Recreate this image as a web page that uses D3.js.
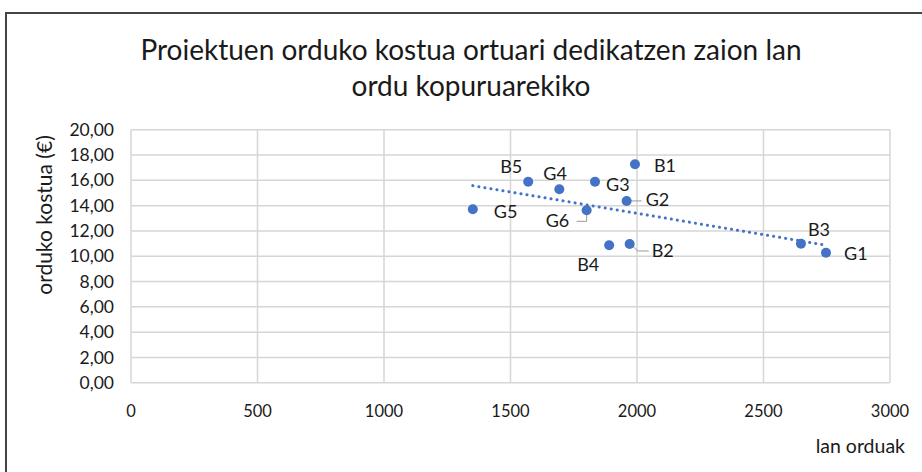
<!DOCTYPE html>
<html><head><meta charset="utf-8">
<script src="https://cdn.jsdelivr.net/npm/d3@7"></script>
<style>body{margin:0;background:#fff}svg{display:block}text{font-family:Lato,"Open Sans",sans-serif}</style>
</head><body><svg id="c" width="922" height="472"></svg>
<script>
const names = ["B1","B5","G4","G3","G2","G5","G6","B4","B2","B3","G1"];
const hours = [1992,1570,1693,1834,1959,1351,1801,1890,1971,2648,2747];
const costs = [17.27,15.89,15.29,15.89,14.37,13.71,13.63,10.87,10.97,10.99,10.28];
const xTicks = [0,500,1000,1500,2000,2500,3000];
const yTicks = [0,2,4,6,8,10,12,14,16,18,20];
const titleLines = ["Proiektuen orduko kostua ortuari dedikatzen zaion lan","ordu kopuruarekiko"];
// label offsets (dx, dy)
const labelOff = {B1:[19,1],B5:[-28,-15],G4:[-16,-16],G3:[11,3],G2:[19,-1],
  G5:[21,2],G6:[-41,10],B4:[-32,19],B2:[22,7],B3:[7,-14],G1:[18,1]};

const svg = d3.select("#c");
svg.append("rect").attr("x",6).attr("y",13).attr("width",930).attr("height",480)
  .attr("fill","#fff").attr("stroke","#444").attr("stroke-width",2);

const L=131,R=890,T=129.7,B=382.8;
const x = d3.scaleLinear().domain([0,3000]).range([L,R]);
const y = d3.scaleLinear().domain([0,20]).range([B,T]);
const ink = "#1a1a1a";

const g = svg.append("g");
g.selectAll(".hg").data(yTicks).join("line").attr("x1",L).attr("x2",R)
  .attr("y1",d=>y(d)).attr("y2",d=>y(d)).attr("stroke","#d6d6d6").attr("stroke-width",1.5);
g.selectAll(".vg").data(xTicks).join("line").attr("y1",T).attr("y2",B)
  .attr("x1",d=>x(d)).attr("x2",d=>x(d)).attr("stroke","#d6d6d6").attr("stroke-width",1.5);

const fmt = d => d.toFixed(2).replace(".",",");
g.selectAll(".yl").data(yTicks).join("text").attr("x",L-17).attr("y",d=>y(d)).attr("dy","0.35em")
  .attr("text-anchor","end").attr("font-size",17.5).attr("fill",ink).text(fmt);
g.selectAll(".xl").data(xTicks).join("text").attr("x",d=>x(d)).attr("y",B+28).attr("dy","0.35em")
  .attr("text-anchor","middle").attr("font-size",16.5).attr("fill",ink).text(d=>d);

// trendline (least squares)
const mx=d3.mean(hours), my=d3.mean(costs);
const slope=d3.sum(hours.map((h,i)=>(h-mx)*(costs[i]-my)))/d3.sum(hours.map(h=>(h-mx)**2));
const icpt=my-slope*mx;
const x0=d3.min(hours), x1=d3.max(hours);
g.append("line").attr("x1",x(x0)).attr("y1",y(icpt+slope*x0)).attr("x2",x(x1)).attr("y2",y(icpt+slope*x1))
  .attr("stroke","#4472C4").attr("stroke-width",3).attr("stroke-dasharray","0.1 6").attr("stroke-linecap","round");

const pts = names.map((nm,i)=>({nm,h:hours[i],c:costs[i]}));
const lead = {G2:[[4,0],[15,0]], G6:[[0,3],[0,11],[-10,11]], B2:[[3,2],[8,7],[19,7]]};
pts.forEach(p=>{ if(lead[p.nm]){ const px=x(p.h),py=y(p.c);
  g.append("path").attr("d",d3.line()(lead[p.nm].map(o=>[px+o[0],py+o[1]]))).attr("fill","none").attr("stroke","#999").attr("stroke-width",1);}});
g.selectAll(".pt").data(pts).join("circle").attr("cx",d=>x(d.h)).attr("cy",d=>y(d.c)).attr("r",5).attr("fill","#4472C4");
g.selectAll(".lb").data(pts).join("text").attr("x",d=>x(d.h)+labelOff[d.nm][0]).attr("y",d=>y(d.c)+labelOff[d.nm][1])
  .attr("dy","0.35em").attr("font-size",18).attr("fill",ink).text(d=>d.nm);

svg.selectAll(".tt").data(titleLines).join("text").attr("x",471).attr("y",(d,i)=>50+i*36).attr("dy","0.35em")
  .attr("text-anchor","middle").attr("font-size",28).attr("fill",ink).text(d=>d);
svg.append("text").attr("transform","translate(45,215) rotate(-90)").attr("text-anchor","middle").attr("dy","0.35em")
  .attr("font-size",21).attr("fill",ink).text("orduko kostua (€)");
svg.append("text").attr("x",905).attr("y",446).attr("dy","0.35em").attr("text-anchor","end")
  .attr("font-size",19.5).attr("fill",ink).text("lan orduak");
</script></body></html>
